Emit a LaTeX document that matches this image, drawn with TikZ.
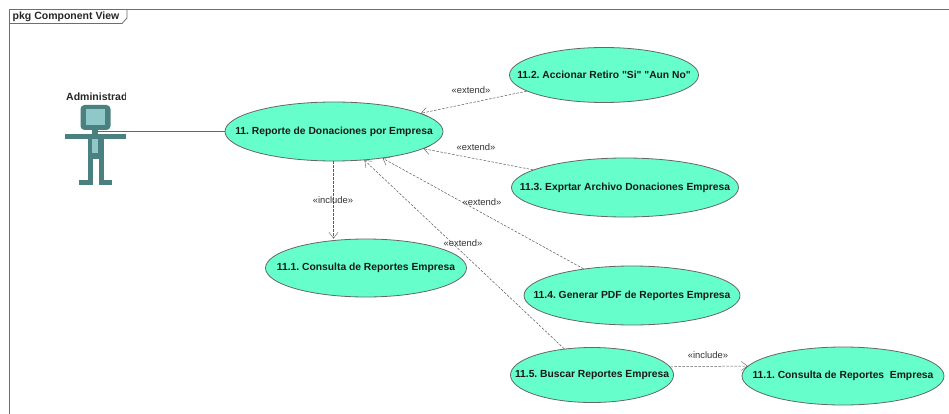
\documentclass[tikz,border=0pt]{standalone}
\usepackage{fontspec}
\setmainfont{Liberation Sans}
\newfontfamily\rawsans{Liberation Sans}
\usetikzlibrary{shapes.geometric,arrows.meta}
\definecolor{uc}{RGB}{102,255,204}
\definecolor{act}{RGB}{74,128,128}
\definecolor{actl}{RGB}{143,200,200}
\definecolor{frm}{RGB}{110,110,110}
\newcommand{\uctext}[1]{\makebox[0pt][c]{\frenchspacing #1}}
\tikzset{
 x=1pt,y=-1pt,
 usecase/.style={draw=black!60,fill=uc,ellipse,inner sep=0pt,line width=.8pt,font=\rawsans\fontsize{10.3}{11}\selectfont\bfseries,text=black!90},
 dep/.style={draw=black!65,dash pattern=on 2.5pt off 1.5pt,line width=.5pt,-{Straight Barb[length=6pt,width=9pt,line width=.4pt]}},
 lbl/.style={font=\fontsize{9.4}{11}\selectfont,text=black!80,inner sep=0pt},
 assoc/.style={draw=black!60,line width=.8pt},
 actbody/.style={fill=act,draw=none},
 heading/.style={anchor=west,inner sep=0pt,font=\fontsize{10.5}{11}\selectfont\bfseries,text=black!85},
}
\begin{document}
\begin{tikzpicture}
\useasboundingbox (0,0) rectangle (949,414);
\fill[white] (0,0) rectangle (949,414);
\draw[frm,line width=.8pt] (9.5,414) -- (9.5,9.5) -- (949,9.5);
\draw[frm,line width=.8pt] (9.5,23.5) -- (122,23.5) -- (127,18) -- (127,9.5);
\node[heading] (title) at (12.5,16.5) {pkg Component View};
% actor
\fill[actbody,rounded corners=4pt] (80.5,105) rectangle (110.5,130);
\fill[actl] (86,109.5) rectangle (104.5,125);
\fill[actbody] (92,129) rectangle (98,134);
\fill[actbody] (65,134) rectangle (126,139);
\fill[actbody] (87.5,134) rectangle (103.5,159);
\fill[actbody] (87.5,158) rectangle (93,184);
\fill[actbody] (98.5,158) rectangle (103.5,184);
\fill[actbody] (79,180) rectangle (93,185);
\fill[actbody] (98.5,180) rectangle (111.5,185);
\fill[actl] (92,139) rectangle (98,153);
\coordinate (actor) at (98,131.5);
\begin{scope}
\clip (60,88) rectangle (125,104);
\node[heading] (actname) at (66,97) {Administrador};
\end{scope}
% use cases
\node[usecase,minimum width=218pt,minimum height=59pt] (main) at (334,131.5) {\uctext{11. Reporte de Donaciones por Empresa}};
\node[usecase,minimum width=189pt,minimum height=55pt] (e2) at (604,75) {\uctext{11.2. Accionar Retiro "Si" "Aun No"}};
\node[usecase,minimum width=227pt,minimum height=59pt] (e3) at (625,187.5) {\uctext{11.3. Exprtar Archivo Donaciones Empresa}};
\node[usecase,minimum width=201pt,minimum height=58pt] (i1) at (366,268) {\uctext{11.1. Consulta de Reportes Empresa}};
\node[usecase,minimum width=216pt,minimum height=59pt] (e4) at (632,295.5) {\uctext{11.4. Generar PDF de Reportes Empresa}};
\node[usecase,minimum width=163pt,minimum height=55pt] (e5) at (592,375) {\uctext{11.5. Buscar Reportes Empresa}};
\node[usecase,minimum width=202pt,minimum height=58pt] (i2) at (843,376) {\uctext{11.1. Consulta de Reportes\ \ Empresa}};
% connectors
\draw[assoc] (actor) -- (main);
\draw[dep] (e2) -- (main);
\draw[dep] (e3) -- (main);
\draw[dep] (e4) -- (main);
\draw[dep] (e5) -- (main);
\draw[dep] (main.south) ++(-0.5,0) coordinate (ms) (ms) -- (ms |- i1.north);
\draw[dep] (e5.6.3) -- (i2.174.3);
% labels
\node[lbl] (l1) at (471,90) {«extend»};
\node[lbl] (l2) at (476,147.5) {«extend»};
\node[lbl] (l3) at (482,202) {«extend»};
\node[lbl] (l4) at (463,243) {«extend»};
\node[lbl] (l5) at (333,200) {«include»};
\node[lbl] (l6) at (708,355.5) {«include»};
\end{tikzpicture}
\end{document}
